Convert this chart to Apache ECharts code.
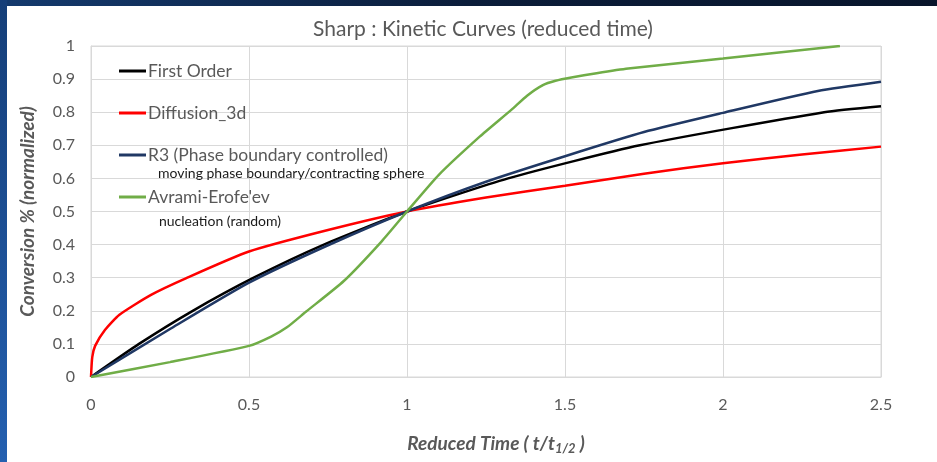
<!DOCTYPE html>
<html>
<head>
<meta charset="utf-8">
<script src="https://cdn.jsdelivr.net/npm/echarts@6/dist/echarts.min.js"></script>
<style>
html,body{margin:0;padding:0;background:#fff;}
#c{width:937px;height:462px;}
</style>
</head>
<body>
<div id="c"></div>
<script>
// ---- data ----
const seriesNames = ['First Order', 'Diffusion_3d', 'R3 (Phase boundary controlled)', "Avrami-Erofe'ev"];
const xTicks = [0, 0.5, 1, 1.5, 2, 2.5];
const yTicks = [0, 0.1, 0.2, 0.3, 0.4, 0.5, 0.6, 0.7, 0.8, 0.9, 1];

const firstOrderT = [0, 0.152, 0.322, 0.515, 0.737, 1, 1.32, 1.737, 2.32, 2.5];
const firstOrderV = [0, 0.1, 0.2, 0.3, 0.4, 0.5, 0.6, 0.7, 0.8, 0.818];

const diffusionT = [0, 0.004, 0.013, 0.044, 0.09, 0.19, 0.3, 0.5, 0.75, 1, 1.25, 1.5, 1.75, 2, 2.25, 2.5];
const diffusionV = [0, 0.06, 0.094, 0.142, 0.188, 0.248, 0.298, 0.379, 0.444, 0.5, 0.542, 0.578, 0.614, 0.646, 0.672, 0.696];

const r3T = [0, 0.25, 0.5, 0.75, 1, 1.25, 1.5, 1.75, 2, 2.3, 2.5];
const r3V = [0, 0.145, 0.285, 0.398, 0.5, 0.59, 0.667, 0.74, 0.798, 0.864, 0.892];

const avramiT = [0, 0.25, 0.5, 0.57, 0.62, 0.68, 0.8, 0.92, 1, 1.1, 1.23, 1.33, 1.38, 1.43, 1.47, 1.52, 1.6, 1.7, 2, 2.37];
const avramiV = [0, 0.045, 0.094, 0.122, 0.15, 0.197, 0.29, 0.41, 0.5, 0.61, 0.726, 0.807, 0.85, 0.882, 0.895, 0.905, 0.918, 0.932, 0.962, 1.0];

const subNotes = ['moving phase boundary/contracting sphere', 'nucleation (random)'];
const colors = ['#000000', '#FF0000', '#203864', '#70AD47'];

function pairs(xs, ys) { return xs.map((x, i) => [x, ys[i]]); }
const allData = [
  pairs(firstOrderT, firstOrderV),
  pairs(diffusionT, diffusionV),
  pairs(r3T, r3V),
  pairs(avramiT, avramiV)
];

const FONT = 'Lato, "Open Sans", sans-serif';
const chart = echarts.init(document.getElementById('c'), null, {renderer: 'canvas'});

chart.setOption({
  animation: false,
  backgroundColor: '#ffffff',
  color: colors,
  title: {
    text: 'Sharp : Kinetic Curves (reduced time)',
    left: 478, top: 14, textAlign: 'center',
    textStyle: {fontFamily: FONT, fontSize: 21, fontWeight: 'normal', color: '#595959'}
  },
  grid: {
    left: 91, right: 56, top: 46, bottom: 85,
    show: true, borderColor: '#d9d9d9', borderWidth: 1
  },
  legend: {
    orient: 'vertical', left: 119, top: 61, padding: 0,
    itemGap: 22, itemWidth: 27, itemHeight: 3, icon: 'rect',
    data: seriesNames,
    textStyle: {fontFamily: FONT, fontSize: 17.5, color: '#595959', lineHeight: 20, padding: [0, 0, 0, -3]}
  },
  xAxis: {
    type: 'value', min: 0, max: 2.5, interval: 0.5,
    name: 'Reduced Time ( t/t{sub|1/2} )',
    nameLocation: 'middle', nameGap: 56,
    nameTextStyle: {
      fontFamily: FONT, fontSize: 19, fontWeight: 'bold', fontStyle: 'italic', color: '#595959',
      padding: [0, 0, 0, 20],
      rich: {sub: {fontFamily: FONT, fontSize: 13, fontWeight: 'bold', fontStyle: 'italic', color: '#595959', verticalAlign: 'bottom', padding: [9, 0, 0, 0]}}
    },
    axisLine: {show: true, lineStyle: {color: '#d9d9d9', width: 1}},
    axisTick: {show: false},
    axisLabel: {fontFamily: FONT, fontSize: 16, color: '#595959', margin: 20,
      formatter: v => xTicks.includes(+v.toFixed(2)) ? String(+v.toFixed(2)) : ''},
    splitLine: {show: true, lineStyle: {color: '#d9d9d9', width: 1}}
  },
  yAxis: {
    type: 'value', min: 0, max: 1, interval: 0.1,
    name: 'Conversion % (normalized)',
    nameLocation: 'middle', nameGap: 54, nameRotate: 90,
    nameTextStyle: {fontFamily: FONT, fontSize: 19, fontWeight: 'bold', fontStyle: 'italic', color: '#595959'},
    axisLine: {show: true, lineStyle: {color: '#d9d9d9', width: 1}},
    axisTick: {show: false},
    axisLabel: {fontFamily: FONT, fontSize: 16, color: '#595959', margin: 16,
      formatter: v => yTicks.includes(+v.toFixed(2)) ? String(+v.toFixed(2)) : ''},
    splitLine: {show: true, lineStyle: {color: '#d9d9d9', width: 1}}
  },
  series: seriesNames.map((n, i) => ({
    name: n, type: 'line', data: allData[i],
    showSymbol: false, smooth: 0.2,
    lineStyle: {width: 2.5, color: colors[i]},
    itemStyle: {color: colors[i]},
    z: 2 + i
  })),
  graphic: [
    {type: 'rect', left: 0, top: 0, shape: {width: 937, height: 6}, z: 100,
      style: {fill: {type: 'linear', x: 0, y: 0, x2: 1, y2: 0, colorStops: [{offset: 0, color: '#143a6e'}, {offset: 0.5, color: '#0b1d3a'}, {offset: 1, color: '#08152b'}]}}},
    {type: 'rect', left: 0, top: 0, shape: {width: 7, height: 462}, z: 100,
      style: {fill: {type: 'linear', x: 0, y: 0, x2: 0, y2: 1, colorStops: [{offset: 0, color: '#153e78'}, {offset: 1, color: '#2460b0'}]}}},
    {type: 'text', left: 158, top: 166, z: 50,
      style: {text: subNotes[0], fontFamily: FONT, fontSize: 14, fill: '#1a1a1a'}},
    {type: 'text', left: 159, top: 214, z: 50,
      style: {text: subNotes[1], fontFamily: FONT, fontSize: 14, fill: '#1a1a1a'}}
  ]
});
</script>
</body>
</html>
